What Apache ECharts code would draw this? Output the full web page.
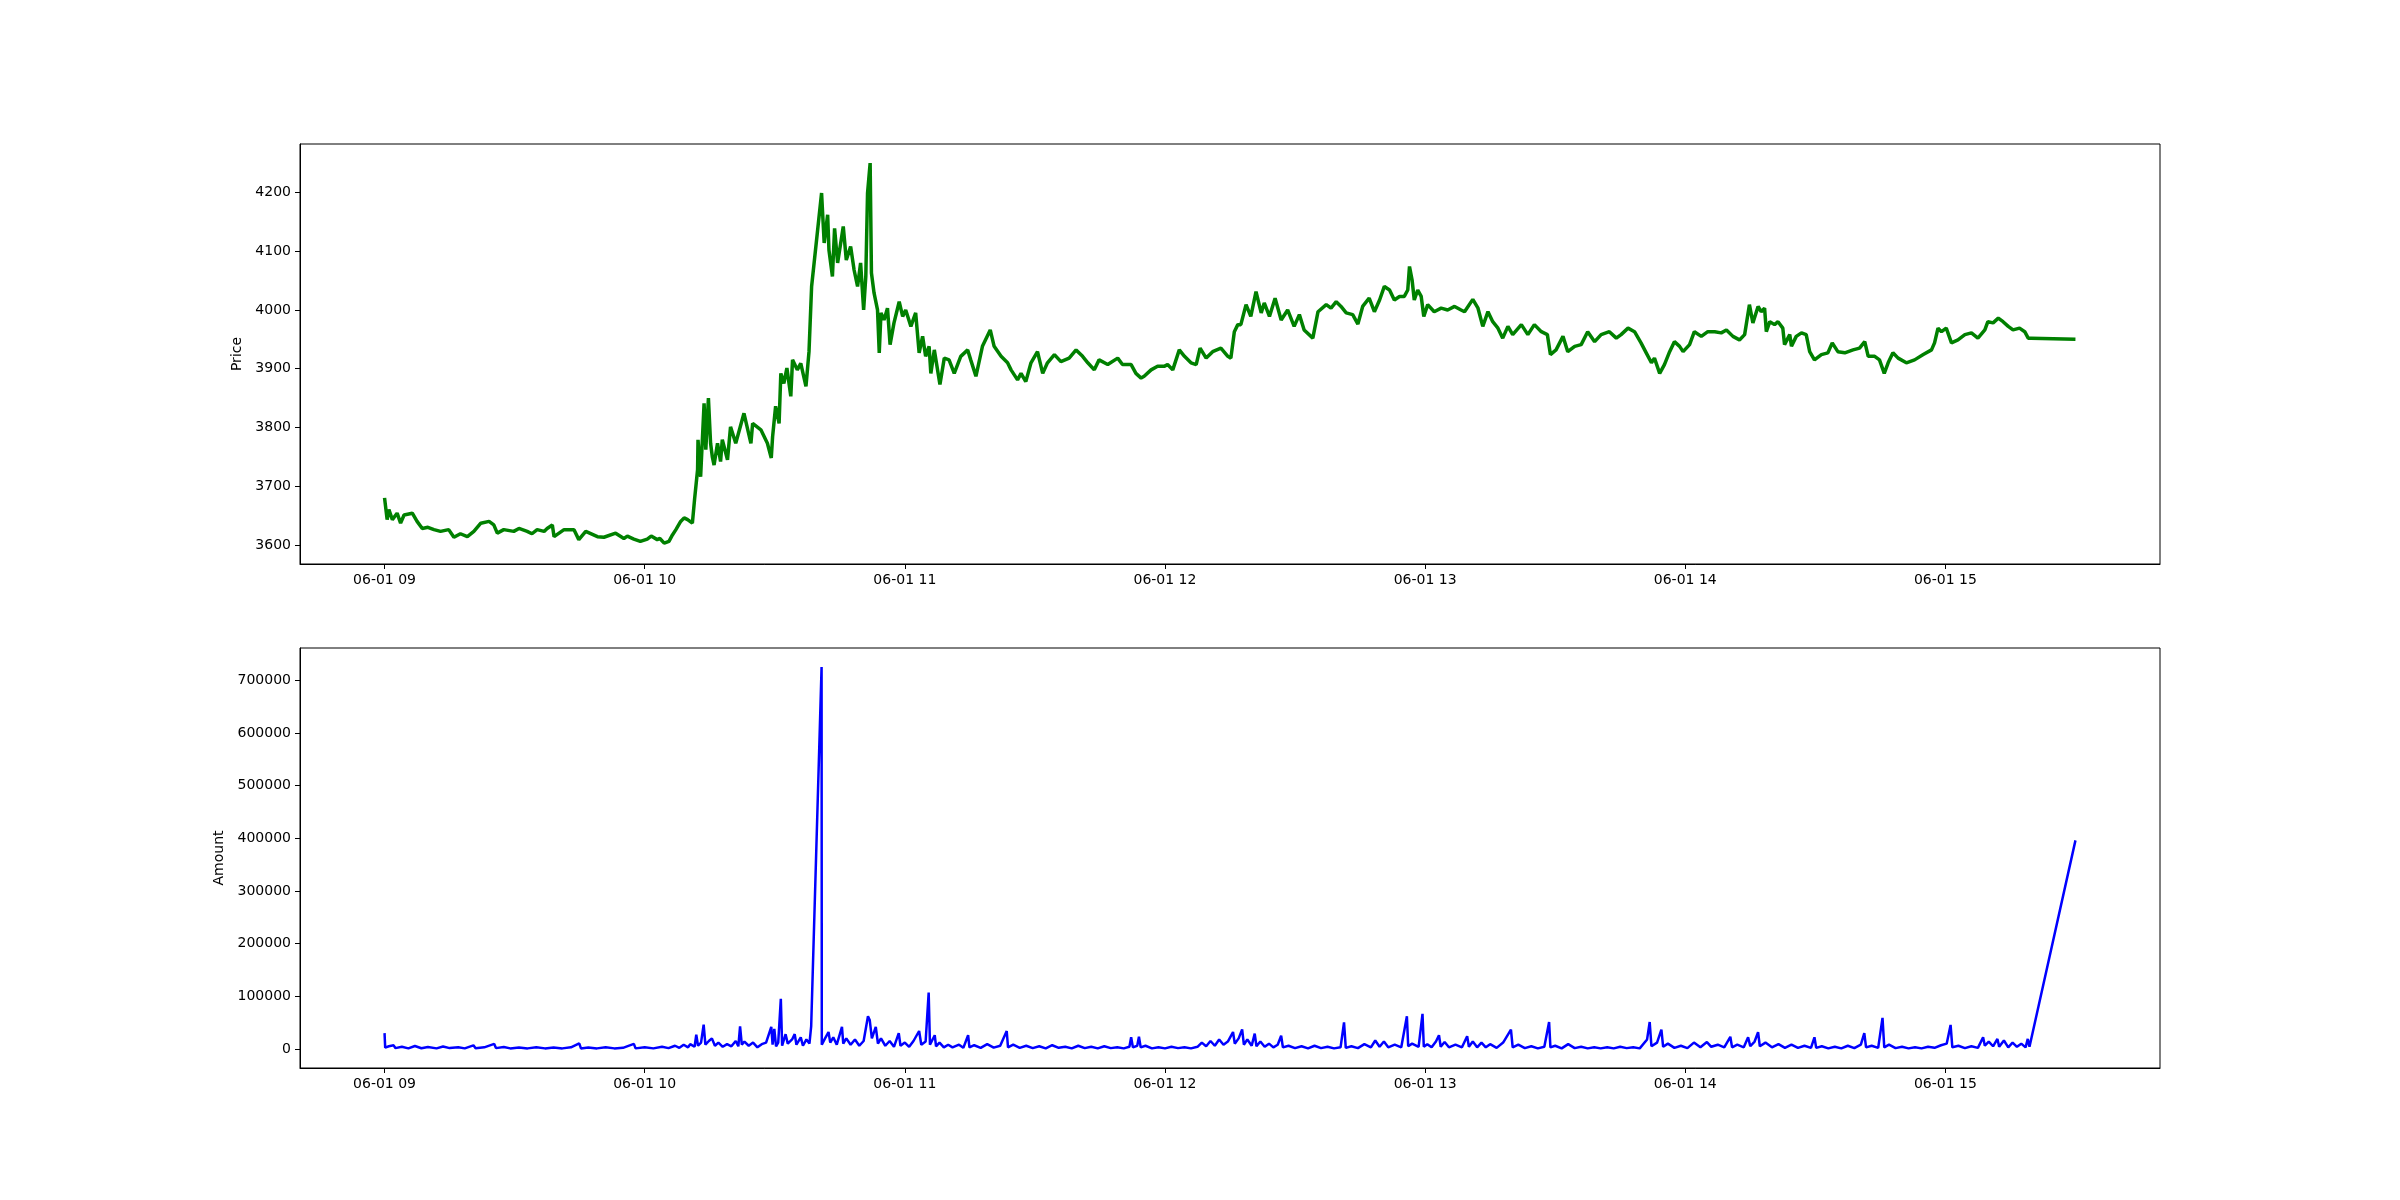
<!DOCTYPE html>
<html>
<head>
<meta charset="utf-8">
<script src="https://cdn.jsdelivr.net/npm/echarts@6/dist/echarts.min.js"></script>
<style>
  html, body { margin: 0; padding: 0; background: #fff; }
  #chart { width: 2400px; height: 1200px; }
</style>
</head>
<body>
<div id="chart"></div>
<script>
// x values are minutes after 06-01 09:00
const hourTicks = [0, 60, 120, 180, 240, 300, 360];
const hourLabels = ['06-01 09', '06-01 10', '06-01 11', '06-01 12', '06-01 13', '06-01 14', '06-01 15'];
const priceTicks = [3600, 3700, 3800, 3900, 4000, 4100, 4200];
const amountTicks = [0, 100000, 200000, 300000, 400000, 500000, 600000, 700000];

// [minute, price]
const priceSeries = [
[0,3680],[0.6,3643],[1.0,3660],[1.8,3643],[2.9,3654],[3.7,3637],[4.5,3651],[6.4,3654],[7.5,3640],[8.7,3628],
[10,3630],[11.4,3626],[12.9,3623],[14.8,3626],[16.0,3613],[17.5,3619],[19.1,3614],[20.6,3623],[22.2,3637],[24.1,3640],
[25.2,3634],[26.0,3620],[27.5,3626],[29.8,3623],[31.0,3628],[32.9,3623],[34.0,3619],[35.2,3626],[36.8,3623],[37.5,3628],
[38.7,3634],[39.1,3614],[41.4,3626],[43.7,3626],[44.8,3609],[46.4,3623],[49.1,3614],[50.6,3613],[53.3,3620],[55.2,3611],
[56.0,3615],[57.5,3610],[59.0,3606],[60.6,3610],[61.5,3615],[62.9,3609],[63.5,3611],[64.5,3603],[65.6,3606],[66.4,3617],
[67.2,3626],[68.3,3640],[69.1,3646],[69.9,3643],[71.0,3637],[71.5,3677],[72.2,3728],[72.3,3779],[72.9,3716],[73.7,3841],
[74.1,3762],[74.7,3850],[75.2,3773],[75.6,3750],[76.0,3736],[76.8,3773],[77.5,3742],[77.9,3779],[79.1,3745],[79.8,3801],
[81.0,3773],[82.9,3824],[84.5,3773],[84.9,3807],[86.8,3796],[88.3,3773],[89.2,3748],[89.5,3784],[90.2,3836],[91.0,3807],
[91.4,3892],[92.1,3875],[92.8,3901],[93.7,3853],[94.1,3915],[95.2,3898],[96.0,3909],[97.2,3870],[97.9,3929],[98.3,3932],
[98.5,4040],[100.8,4199],[101.4,4114],[102.2,4162],[102.5,4102],[103.3,4057],[103.8,4139],[104.5,4080],[105.8,4142],[106.5,4085],
[107.5,4108],[108.3,4068],[109.1,4040],[109.8,4080],[110.5,4000],[111.0,4057],[111.4,4199],[112.0,4250],[112.3,4063],[112.9,4029],
[113.7,4000],[114.1,3927],[114.5,3995],[115.2,3983],[116.0,4003],[116.6,3941],[117.5,3978],[118.7,4014],[119.5,3989],[120.2,4000],
[121.4,3972],[122.5,3995],[123.3,3927],[124.1,3955],[124.8,3921],[125.6,3938],[126.0,3892],[126.8,3932],[128.1,3873],[129.1,3918],
[130.2,3915],[131.4,3892],[132.9,3921],[134.5,3932],[135.2,3915],[136.4,3887],[137.9,3938],[139.7,3966],[140.6,3938],[142.2,3921],
[143.7,3910],[144.5,3898],[146.0,3881],[146.8,3892],[147.9,3878],[149.1,3910],[150.6,3929],[151.8,3892],[152.9,3910],[154.5,3924],
[156.0,3912],[157.9,3918],[159.5,3932],[161.0,3921],[162.2,3910],[163.7,3898],[164.8,3915],[166.8,3907],[169.1,3918],[170.2,3907],
[172.2,3907],[173.3,3892],[174.5,3884],[175.2,3887],[176.8,3898],[178.3,3904],[179.8,3904],[180.6,3907],[181.8,3898],[183.3,3932],
[184.5,3921],[186.0,3910],[187.2,3907],[188.1,3935],[189.5,3918],[191.0,3929],[192.9,3935],[194.5,3921],[195.2,3918],[196.0,3963],
[196.8,3975],[197.5,3975],[198.7,4009],[199.8,3989],[201.0,4031],[202.2,3995],[202.9,4012],[204.1,3989],[205.4,4020],[206.8,3983],
[208.3,4000],[209.8,3972],[211.0,3992],[212.1,3966],[214.1,3952],[215.3,3997],[217.2,4009],[218.3,4003],[219.5,4014],[220.6,4006],
[221.8,3995],[223.3,3992],[224.5,3976],[225.6,4006],[227.1,4020],[228.3,3997],[229.5,4017],[230.6,4040],[231.8,4034],[232.9,4017],
[234.1,4023],[235.2,4023],[236.0,4034],[236.4,4074],[237.0,4051],[237.5,4017],[238.3,4034],[239.1,4023],[239.7,3989],[240.6,4009],
[242.1,3997],[243.7,4003],[245.2,4000],[246.8,4006],[248.3,4000],[249.1,3997],[251.0,4018],[252.2,4003],[253.3,3972],[254.5,3997],
[255.6,3980],[256.8,3969],[257.9,3952],[259.1,3972],[260.2,3958],[262.2,3975],[263.7,3958],[265.2,3975],[266.8,3963],[268.2,3958],
[268.9,3924],[270.2,3932],[271.8,3955],[272.9,3929],[274.5,3938],[276.0,3941],[277.5,3963],[279.1,3946],[280.6,3958],[282.5,3963],
[284.1,3952],[285.2,3958],[286.8,3969],[288.3,3963],[289.8,3944],[291.0,3927],[292.2,3910],[292.9,3918],[294.1,3892],[295.2,3907],
[296.4,3929],[297.5,3946],[298.7,3938],[299.5,3929],[301.0,3941],[302.1,3963],[303.7,3955],[305.2,3963],[306.8,3963],[308.3,3961],
[309.5,3966],[311.0,3955],[312.5,3949],[313.7,3958],[314.8,4009],[315.6,3978],[316.8,4006],[317.5,3997],[318.3,4003],[318.7,3963],
[319.5,3980],[320.6,3975],[321.4,3980],[322.5,3969],[322.9,3941],[324.1,3958],[324.5,3938],[325.6,3955],[326.8,3961],[327.9,3958],
[328.7,3929],[329.8,3915],[331.4,3924],[332.9,3927],[333.9,3944],[335.2,3929],[336.8,3927],[338.7,3932],[340.2,3935],[341.4,3946],
[342.2,3921],[343.7,3921],[344.8,3915],[345.9,3892],[346.8,3910],[347.9,3927],[349.1,3918],[351.0,3910],[352.9,3915],[354.9,3924],
[356.8,3932],[357.5,3944],[358.3,3969],[359.1,3963],[360.2,3969],[361.4,3944],[362.9,3949],[364.5,3958],[366.0,3961],[367.5,3952],
[369.1,3966],[369.8,3980],[371.0,3978],[372.2,3986],[373.3,3980],[374.5,3972],[375.6,3966],[377.1,3969],[378.3,3963],[379.1,3952],
[379.8,3952],[390,3950]
];

// [minute, amount]
const amountSeries = [
[0,30000],[0.15,2500],[1,5000],[2.1,6800],[2.5,1500],[4,4000],[5.5,1000],[7,5500],[8.5,1200],[10,3500],[12,1000],[13.5,4500],
[15,1500],[17,3000],[18.5,1000],[20.5,6800],[21,1200],[23,3000],[25.3,9500],[25.7,1500],[27.5,3500],[29,1000],[31,2500],[33,1000],
[35,3000],[37,1000],[39,2500],[41,1000],[43,3000],[44.9,10500],[45.3,1000],[47,2500],[49,1000],[51,3000],[53,1000],[55,2000],
[57.5,9500],[57.9,1000],[60,3000],[62,1000],[64,4000],[65.5,1500],[67,6000],[68,2000],[69,8000],[70,3000],
[70.5,9000],[71.5,4000],[71.9,27000],[72.3,6000],[73,12000],[73.6,46000],[74,8000],[74.8,15000],[75.5,20000],[76.2,6000],[77,12000],
[78,4000],[79,9000],[80,5000],[81,15000],[81.6,5000],[82,43000],[82.4,8000],[83,14000],[84,6000],[85,12000],[86,3000],[87,9000],
[88,12000],[89.2,42000],[89.5,8000],[89.9,38000],[90.3,5000],[90.8,12000],[91.4,95000],[91.7,6000],[92.5,28000],[93,10000],[94,18000],
[94.6,28000],[95,8000],[96,22000],[96.5,6000],[97.3,18000],[98,10000],[98.4,43000],[100.8,725000],[100.85,8000],
[101.6,20000],[102.4,32000],[102.8,12000],[103.5,22000],[104.3,8000],[105.5,42000],[105.8,10000],[106.5,20000],[107.5,8000],[108.5,18000],
[109.5,6000],[110.5,15000],[111.5,62000],[111.9,55000],[112.4,20000],[113.3,42000],[113.8,10000],[114.5,20000],[115.5,6000],[116.5,15000],
[117.5,4000],[118.6,30000],[119,6000],[120,12000],[121,4000],[122,15000],[123.3,34000],[123.8,8000],[124.8,14000],[125.5,107000],
[125.8,8000],[126.9,26000],[127.2,5000],[128,12000],[129,3000],[130,8000],
[131,3000],[132.5,8000],[133.5,2000],[134.6,26000],[134.9,3000],[136,7000],[137.5,2000],[139,9000],[140.5,2500],[142,6000],[143.5,34000],
[143.8,3000],[145,8000],[146.5,2000],[148,6000],[149.5,1500],[151,5000],[152.5,1000],[154,7000],[155.5,2000],[157,4000],[158.5,1000],
[160,6000],[161.5,1500],[163,4000],[164.5,1000],[166,5000],[167.5,1500],[169,3000],[170.5,1000],[171.8,4000],[172.2,22000],[172.6,3000],
[173.6,6000],[174.0,23000],[174.4,3000],[175.5,6000],[177,1000],[178.5,3000],[180,1000],[181.5,4000],[183,1500],[184.5,3000],[186,1000],
[187.5,4000],[188.5,12000],[189.5,5000],[190.5,15000],[191.5,6000],[192.5,18000],[193.5,8000],[194.5,14000],[195.7,32000],[196.1,10000],
[197,20000],[197.8,37000],[198.2,8000],[199,18000],[200,6000],[200.7,29000],[201.1,5000],[202,14000],[203,4000],[204,10000],[205,3000],
[206,8000],[206.8,25000],[207.2,3000],[208.5,6000],[210,1500],[211.5,5000],[213,1000],[214.5,6000],[216,1500],[217.5,4000],[219,1000],
[220.5,3000],[221.3,50500],[221.7,2000],[223,5000],[224.5,1500],[226,9000],[227.5,3000],[228.5,16000],[229.5,4000],[230.5,14000],
[231.5,3000],[233,8000],[234.5,3000],[235.8,62000],[236.1,5000],[237,10000],[238.5,4000],[239.4,66500],[239.7,4000],[240.5,9000],
[241.5,3000],[242.5,14000],[243.2,26000],[243.6,4000],[244.5,13000],[245.5,3000],[247,8000],[248.5,3000],[249.7,24000],[250.1,4000],
[251,14000],[252,3000],[253,12000],[254,3000],[255,9000],[256.5,2000],[258,12000],[259.8,36600],[260.2,3000],[261.5,8000],[263,1500],
[264.5,5000],[266,1000],[267.5,4000],[268.6,51000],[268.9,3000],[270,6000],[271.5,1000],[273,9000],[274.5,1500],[276,4000],[277.5,1000],
[279,3000],[280.5,1000],[282,3000],[283.5,1000],[285,4000],[286.5,1500],[288,3000],[289.5,1000],[291.2,18000],[291.8,51000],[292.2,5000],
[293.5,12000],[294.5,36600],[294.9,4000],[296,10000],[297.5,2000],[299,6000],[300.5,1500],[302,12000],[303.5,3000],[305,13000],[306,4000],
[307.5,8000],[309,3000],[310.4,23000],[310.8,3000],[312,8000],[313.5,3000],[314.5,22000],[315,5000],[316,14000],[316.8,32000],[317.2,5000],
[318.5,12000],[320,3000],[321.5,9000],[323,2000],[324.5,8000],[326,2000],[327.5,6000],[329,2000],[329.8,22000],[330.2,2000],[331.5,5000],
[333,1000],[334.5,4000],[336,1000],[337.5,6000],[339,1500],[340.5,8000],[341.3,30000],[341.7,3000],[343,6000],[344.5,2000],[345.5,59000],
[345.9,3000],[347,8000],[348.5,1500],[350,4000],[351.5,1000],[353,3000],[354.5,1000],[356,4000],[357.5,2000],[359,7000],[360.3,10000],
[361.2,45500],[361.6,3000],[363,6000],[364.5,1500],[366,5000],[367.5,2000],[368.7,22000],[369.1,6000],[370,14000],[371,5000],[372,19000],
[372.4,4000],[373.5,16000],[374.5,3000],[375.5,12000],[376.5,4000],[377.5,10000],[378.5,3000],[379,19000],[379.4,4000],[379.8,2000],
[390,396000]
];

const FONT = 'DejaVu Sans';
const chart = echarts.init(document.getElementById('chart'), null, { renderer: 'canvas' });

function xAxisCfg(gridIndex) {
  return {
    type: 'value', gridIndex: gridIndex, min: -19.5, max: 409.5,
    axisLine: { show: true, onZero: false, lineStyle: { color: '#000', width: 1 } },
    axisTick: { show: true, length: 5, customValues: hourTicks, lineStyle: { color: '#000' } },
    axisLabel: { show: true, customValues: hourTicks, margin: 9, fontSize: 14, fontFamily: FONT, color: '#000',
      formatter: function (v) { return hourLabels[hourTicks.indexOf(Math.round(v))] || ''; } },
    splitLine: { show: false }
  };
}
function yAxisCfg(gridIndex, min, max, ticks, name, gap) {
  return {
    type: 'value', gridIndex: gridIndex, min: min, max: max,
    name: name, nameLocation: 'middle', nameGap: gap, nameRotate: 90,
    nameTextStyle: { fontSize: 14, fontFamily: FONT, color: '#000' },
    axisLine: { show: true, onZero: false, lineStyle: { color: '#000', width: 1 } },
    axisTick: { show: true, length: 5, customValues: ticks, lineStyle: { color: '#000' } },
    axisLabel: { show: true, customValues: ticks, margin: 9, fontSize: 14, fontFamily: FONT, color: '#000',
      formatter: function (v) { return String(Math.round(v)); } },
    splitLine: { show: false }
  };
}

chart.setOption({
  animation: false,
  backgroundColor: '#fff',
  grid: [
    { left: 300, top: 144, width: 1860, height: 420, show: true, borderColor: '#000', borderWidth: 1, backgroundColor: 'transparent' },
    { left: 300, top: 648, width: 1860, height: 420, show: true, borderColor: '#000', borderWidth: 1, backgroundColor: 'transparent' }
  ],
  xAxis: [xAxisCfg(0), xAxisCfg(1)],
  yAxis: [
    yAxisCfg(0, 3567.5, 4282.5, priceTicks, 'Price', 41),
    yAxisCfg(1, -36250, 761250, amountTicks, 'Amount', 62)
  ],
  series: [
    { type: 'line', xAxisIndex: 0, yAxisIndex: 0, data: priceSeries, showSymbol: false, symbol: 'none',
      lineStyle: { color: '#008000', width: 3.5 }, clip: true },
    { type: 'line', xAxisIndex: 1, yAxisIndex: 1, data: amountSeries, showSymbol: false, symbol: 'none',
      lineStyle: { color: '#0000ff', width: 2.5 }, clip: true }
  ]
});
</script>
</body>
</html>
